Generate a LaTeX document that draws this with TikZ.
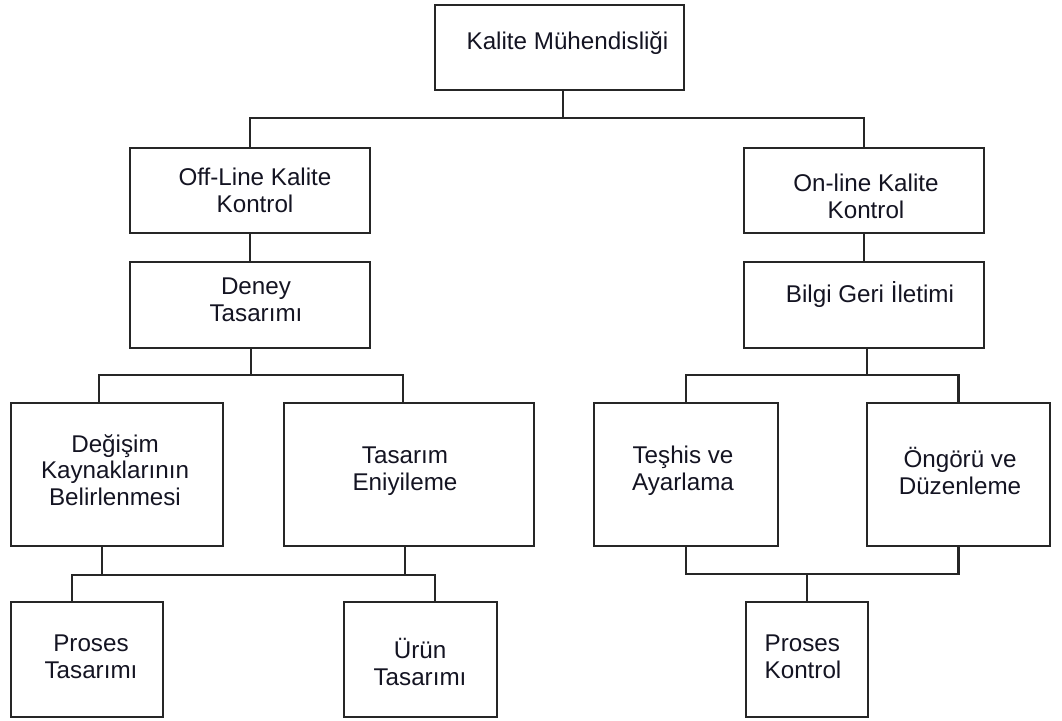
\documentclass[tikz,border=0pt]{standalone}
\usepackage{fontspec}
\setmainfont{Liberation Sans}
\definecolor{linec}{HTML}{262626}
\definecolor{textc}{HTML}{141422}
\begin{document}
\begin{tikzpicture}[x=1pt,y=-1pt,
  box/.style n args={2}{draw=linec, line width=2.1pt, minimum width=#1pt,
    minimum height=#2pt, inner sep=0pt},
  lbl/.style={font=\fontsize{24.2}{26.8}\selectfont, text=textc, align=center, inner sep=0pt},
  conn/.style={draw=linec, line width=2.1pt}]
\fill[white] (0,0) rectangle (1062,720);
\useasboundingbox (0,0) rectangle (1062,720);

% level 0
\node[box={249}{85}] (top) at (559.5,47.5) {};
\node[lbl] (ttop) at (567.5,43) {Kalite Mühendisliği};

% level 1
\node[box={240}{85}] (off) at (250,190.5) {};
\node[lbl] (toff) at (255,190) {Off-Line Kalite\\ Kontrol};
\node[box={240}{85}] (on) at (864,190.5) {};
\node[lbl] (ton) at (866,196) {On-line Kalite\\ Kontrol};

% level 2
\node[box={240}{86}] (deney) at (250,305) {};
\node[lbl] (tdeney) at (256,300) {Deney\\ Tasarımı};
\node[box={240}{86}] (bilgi) at (864,305) {};
\node[lbl] (tbilgi) at (870,295) {Bilgi Geri İletimi};

% level 3
\node[box={212}{143}] (degisim) at (117,474.5) {};
\node[lbl] (tdegisim) at (115,470) {Değişim\\ Kaynaklarının\\ Belirlenmesi};
\node[box={250}{143}] (tasarim) at (409,474.5) {};
\node[lbl] (ttasarim) at (405,471) {Tasarım\\ Eniyileme};
\node[box={184}{143}] (teshis) at (686,474.5) {};
\node[lbl] (tteshis) at (683,471) {Teşhis ve\\ Ayarlama};
\node[box={183}{143}] (ongoru) at (958.5,474.5) {};
\node[lbl] (tongoru) at (960,471) {Öngörü ve\\ Düzenleme};

% level 4
\node[box={152}{115}] (ptas) at (87,659.5) {};
\node[lbl] (tptas) at (91,657) {Proses\\ Tasarımı};
\node[box={153}{115}] (urun) at (420.5,659.5) {};
\node[lbl] (turun) at (420,662) {Ürün\\ Tasarımı};
\node[box={122}{115}] (pkon) at (807,659.5) {};
\node[lbl, align=left] (tpkon) at (803,657) {Proses\\ Kontrol};

% bus junctions
\coordinate (b1) at (563,118);
\coordinate (b2) at (251,375);
\coordinate (b3) at (867,375);
\coordinate (b4) at (250,575);
\coordinate (b5) at (807,574);

% connectors
\draw[conn] (top.south -| b1) -- (b1);
\draw[conn] (off.north) |- (b1) -| (on.north);
\draw[conn] (off.south) -- (deney.north);
\draw[conn] (on.south) -- (bilgi.north);

\draw[conn] (deney.south -| b2) -- (b2);
\draw[conn] ([xshift=-18pt]degisim.north) |- (b2) -| ([xshift=-6pt]tasarim.north);
\draw[conn] (bilgi.south -| b3) -- (b3);
\draw[conn] (teshis.north) |- (b3) -| (ongoru.north);

\draw[conn] ([xshift=-15pt]ptas.north) |- (b4) -| ([xshift=14.5pt]urun.north);
\draw[conn] ([xshift=-15pt]degisim.south) |- (b4);
\draw[conn] ([xshift=-4pt]tasarim.south) |- (b4);

\draw[conn] (teshis.south) |- (b5) -| (ongoru.south);
\draw[conn] (b5) -- (pkon.north);
\end{tikzpicture}
\end{document}
